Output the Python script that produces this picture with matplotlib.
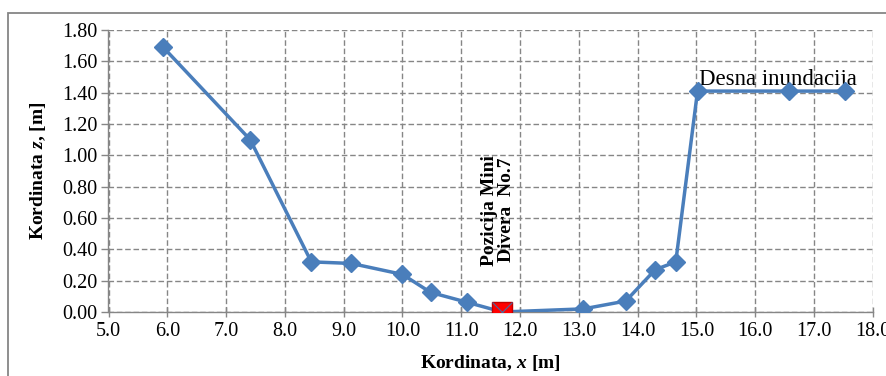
import matplotlib
matplotlib.use("Agg")
import matplotlib.pyplot as plt
from matplotlib.patches import Rectangle

# cross-section profile
x_coord = [5.93, 7.41, 8.45, 9.13, 10.0, 10.48, 11.10, 11.70, 13.08, 13.80, 14.30, 14.65, 15.02, 16.57, 17.53]
z_coord = [1.69, 1.10, 0.32, 0.31, 0.24, 0.125, 0.062, 0.0, 0.02, 0.07, 0.27, 0.32, 1.41, 1.41, 1.41]
diver_x = 11.70
diver_z = 0.0
x_ticks = [5.0 + i for i in range(14)]
z_ticks = [0.2 * i for i in range(10)]

plt.rcParams['font.family'] = 'Liberation Serif'
plt.rcParams['mathtext.fontset'] = 'custom'
plt.rcParams['mathtext.bfit'] = 'Liberation Serif:italic:bold'
plt.rcParams['mathtext.it'] = 'Liberation Serif:italic'

blue = '#4a7ebb'
grey = '#868686'

fig = plt.figure(figsize=(8.87, 3.76), dpi=100)
ax = fig.add_axes([108.5 / 887, 1 - 312 / 376, (872.7 - 108.5) / 887, (312 - 30) / 376])

# outer chart border
fig.patches.append(Rectangle((8 / 887, -0.1), 1.2, 1 - 13 / 376 + 0.1, transform=fig.transFigure,
                             fill=False, edgecolor=grey, linewidth=1.3))

# profile line + diamonds (diver point has no diamond)
ax.plot(x_coord, z_coord, color=blue, linewidth=2.5, zorder=3)
px = [x for x in x_coord if x != diver_x]
pz = [z for x, z in zip(x_coord, z_coord) if x != diver_x]
ax.plot(px, pz, linestyle='none', marker='D', markersize=9, color=blue, zorder=4)

# Mini Diver position
ax.plot([diver_x], [diver_z], linestyle='none', marker='s', markersize=15,
        markerfacecolor='#ff0000', markeredgecolor='#c00000', zorder=5)
ax.plot([diver_x], [diver_z], linestyle='none', marker='x', markersize=14,
        markeredgecolor='#4a6aa0', markeredgewidth=0.8, zorder=6)

ax.set_xlim(5.0, 18.0)
ax.set_ylim(0.0, 1.80)
ax.set_xticks(x_ticks)
ax.set_yticks(z_ticks)
ax.set_xticklabels([f'{v:.1f}' for v in x_ticks])
ax.set_yticklabels([f'{v:.2f}' for v in z_ticks])
ax.tick_params(axis='both', labelsize=14.5, colors=grey, labelcolor='black', length=5, width=1)
ax.tick_params(axis='x', direction='inout', length=7, pad=4)
ax.tick_params(axis='y', direction='out', pad=3)

ax.grid(True, color=grey, linestyle=(0, (4, 2)), linewidth=1.0)
for side in ['top', 'right']:
    ax.spines[side].set_visible(False)
for side in ['left', 'bottom']:
    ax.spines[side].set_color(grey)
    ax.spines[side].set_linewidth(1.0)
ax.set_axisbelow(True)

ax.set_xlabel(r'Kordinata, $\mathbfit{x}$ [m]', fontsize=14, fontweight='bold', labelpad=8)
ax.set_ylabel(r'Kordinata $\mathbfit{z}$, [m]', fontsize=14, fontweight='bold', labelpad=10)

ax.text(15.05, 1.45, 'Desna inundacija', fontsize=16.5, va='baseline', ha='left')
ax.text(11.63, 0.65, 'Pozicija Mini\nDivera  No.7', fontsize=14, fontweight='bold',
        rotation=90, ha='center', va='center', linespacing=1.0, multialignment='center')

fig.savefig('out.png', dpi=100)
